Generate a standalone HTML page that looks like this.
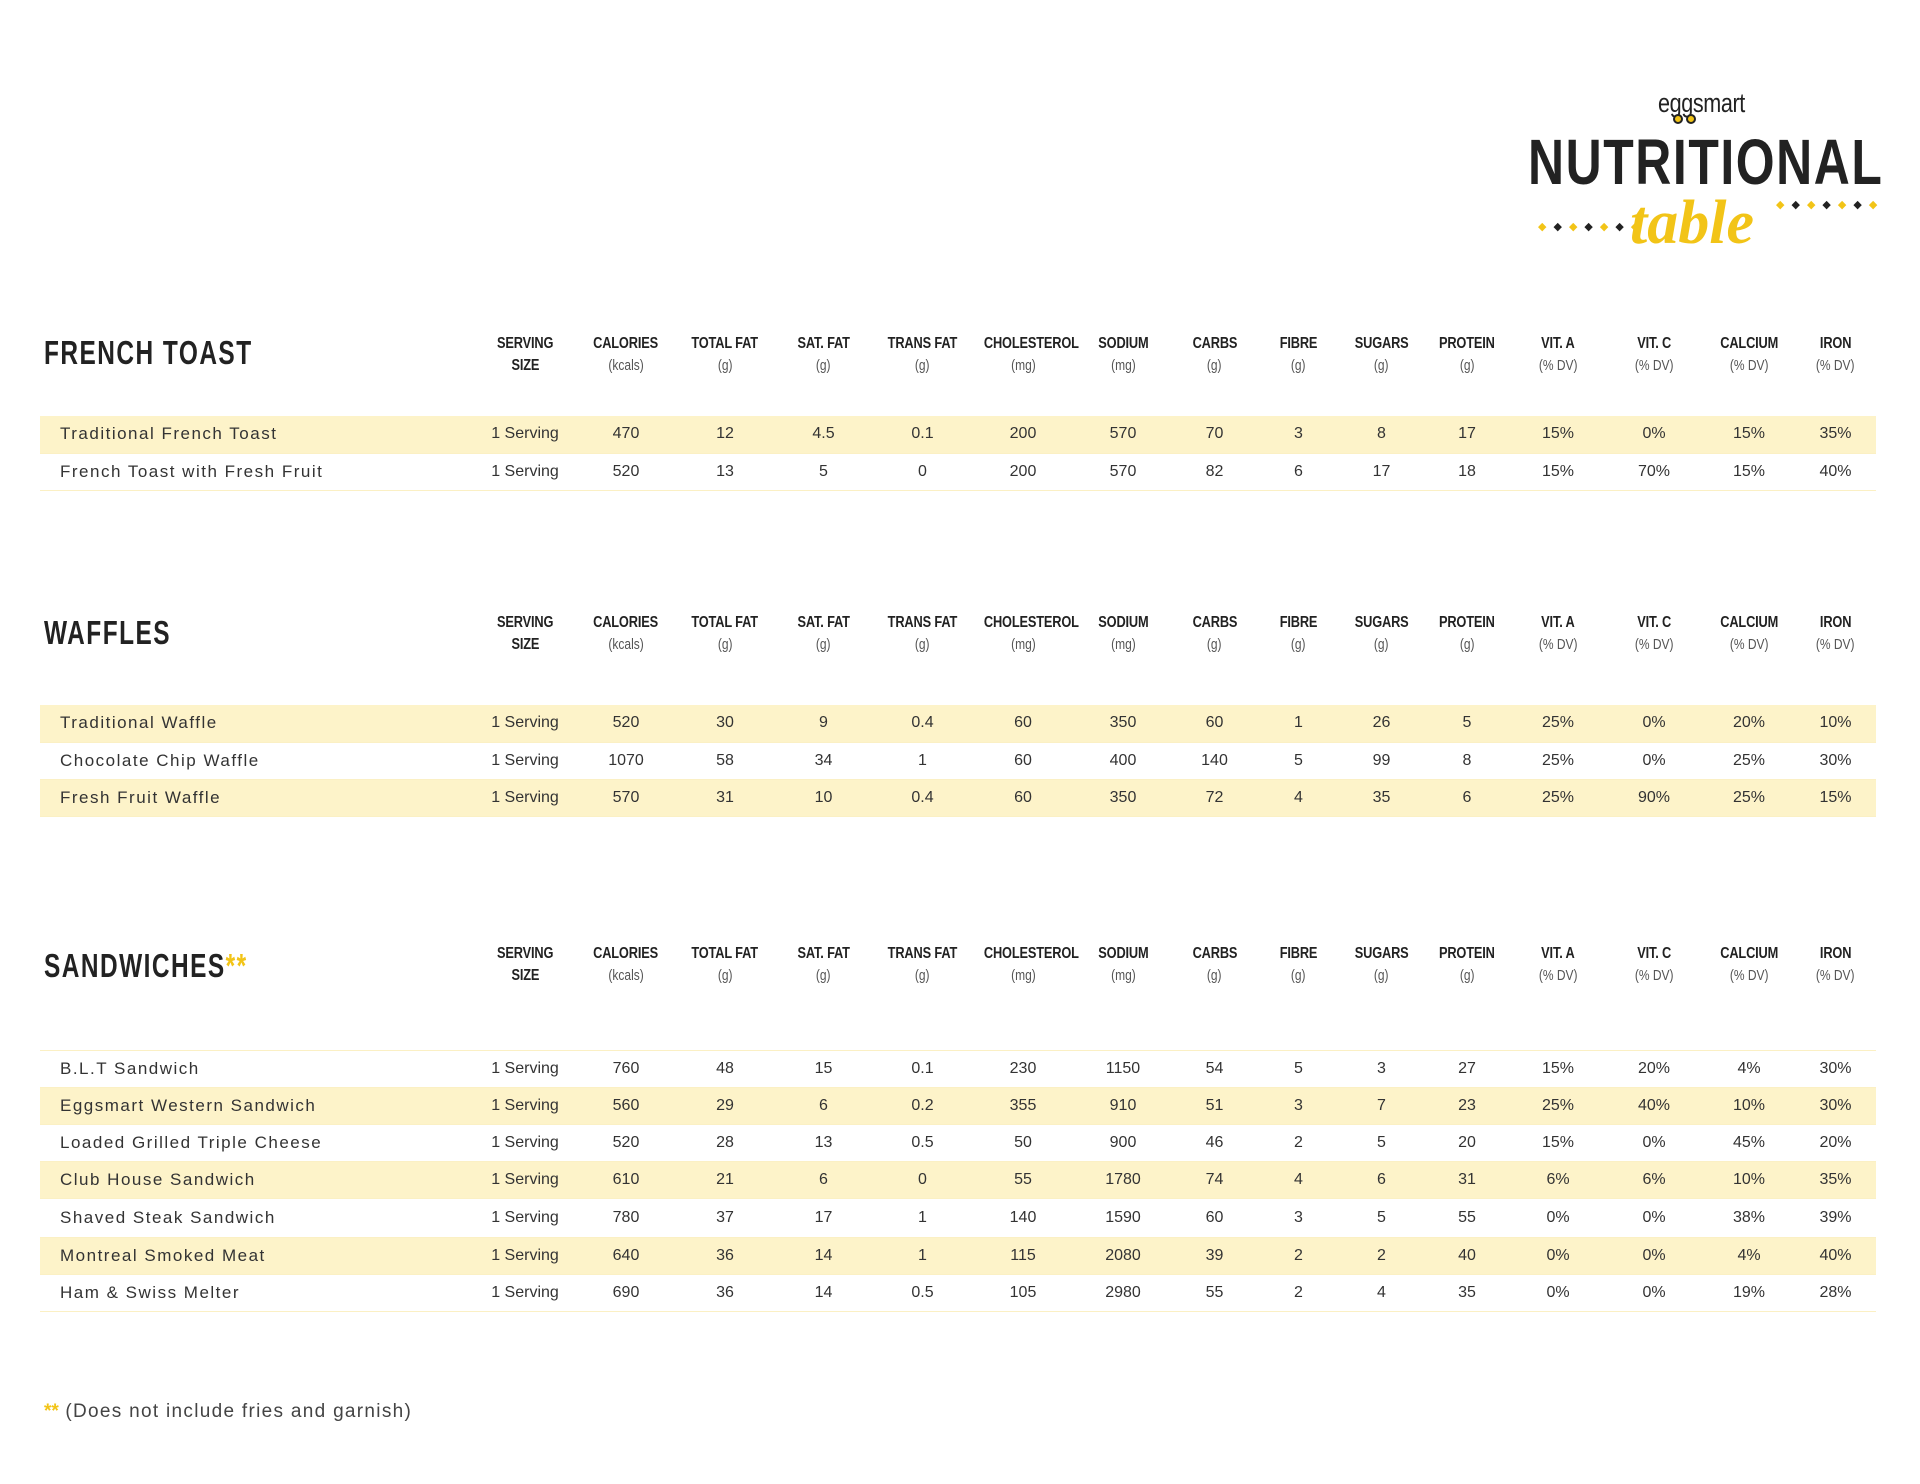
<!DOCTYPE html>
<html><head><meta charset="utf-8">
<style>
*{margin:0;padding:0;box-sizing:border-box}
body{width:1920px;height:1484px;background:#fff;position:relative;overflow:hidden;font-family:"Liberation Sans",sans-serif;color:#2a2a2a}
.title{position:absolute;left:44px;font-weight:bold;font-size:33px;letter-spacing:2px;color:#222;transform:scaleX(0.74);transform-origin:left center}
.title .st{color:#f2c417}
table{position:absolute;left:40px;width:1836px;border-collapse:collapse;table-layout:fixed}
td{text-align:center;font-size:16px;color:#333;white-space:nowrap;overflow:visible}
td.n{text-align:left;padding-left:20px;font-size:17px;letter-spacing:1.5px}
.data td{height:37px;border-bottom:1.5px solid #fbf0c4}
.data tr.y td{background:#fdf3c9}
.hdr td{vertical-align:top;line-height:22px;height:44px}
.hdr b{display:inline-block;font-size:16px;transform:scaleX(0.8);letter-spacing:-.2px;color:#222}
.hdr i{display:inline-block;font-style:normal;font-size:15px;color:#555;transform:scaleX(0.8)}
</style></head><body>

<!-- logo -->
<div style="position:absolute;left:1658px;top:88px;font-size:27px;color:#222;transform:scaleX(0.8);transform-origin:left;letter-spacing:-.5px">eggsmart</div>
<div style="position:absolute;left:1673px;top:114px;width:10px;height:10px;border-radius:50%;background:#f2c417;border:2px solid #222"></div>
<div style="position:absolute;left:1686px;top:114px;width:10px;height:10px;border-radius:50%;background:#f2c417;border:2px solid #222"></div>
<div style="position:absolute;left:1528px;top:130px;font-size:64px;font-weight:bold;color:#222;letter-spacing:2px;transform:scaleX(0.78);transform-origin:left top;line-height:1">NUTRITIONAL</div>
<div style="position:absolute;left:1630px;top:192px;font-family:'Liberation Serif',serif;font-style:italic;font-weight:bold;font-size:62px;color:#f2c417;line-height:1">table</div>
<div style="position:absolute;left:1538px;top:220px;font-size:11px;letter-spacing:7px;color:#f2c417">◆<span style="color:#222">◆</span>◆<span style="color:#222">◆</span>◆<span style="color:#222">◆</span>◆</div>
<div style="position:absolute;left:1776px;top:198px;font-size:11px;letter-spacing:7px;color:#f2c417">◆<span style="color:#222">◆</span>◆<span style="color:#222">◆</span>◆<span style="color:#222">◆</span>◆</div>

<!-- FRENCH TOAST -->
<div class="title" style="top:334px">FRENCH TOAST</div>
<table class="hdr" style="top:333px">
<colgroup><col style="width:434px"><col style="width:102px"><col style="width:100px"><col style="width:98px"><col style="width:99px"><col style="width:99px"><col style="width:102px"><col style="width:98px"><col style="width:85px"><col style="width:83px"><col style="width:83px"><col style="width:88px"><col style="width:94px"><col style="width:98px"><col style="width:92px"><col style="width:81px"></colgroup>
<tr><td></td><td><b>SERVING</b><br><b>SIZE</b></td><td><b>CALORIES</b><br><i>(kcals)</i></td><td><b>TOTAL FAT</b><br><i>(g)</i></td><td><b>SAT. FAT</b><br><i>(g)</i></td><td><b>TRANS FAT</b><br><i>(g)</i></td><td><b>CHOLESTEROL</b><br><i>(mg)</i></td><td><b>SODIUM</b><br><i>(mg)</i></td><td><b>CARBS</b><br><i>(g)</i></td><td><b>FIBRE</b><br><i>(g)</i></td><td><b>SUGARS</b><br><i>(g)</i></td><td><b>PROTEIN</b><br><i>(g)</i></td><td><b>VIT. A</b><br><i>(% DV)</i></td><td><b>VIT. C</b><br><i>(% DV)</i></td><td><b>CALCIUM</b><br><i>(% DV)</i></td><td><b>IRON</b><br><i>(% DV)</i></td></tr>
</table>
<table class="data" style="top:416px">
<colgroup><col style="width:434px"><col style="width:102px"><col style="width:100px"><col style="width:98px"><col style="width:99px"><col style="width:99px"><col style="width:102px"><col style="width:98px"><col style="width:85px"><col style="width:83px"><col style="width:83px"><col style="width:88px"><col style="width:94px"><col style="width:98px"><col style="width:92px"><col style="width:81px"></colgroup>
<tr class="y"><td class="n">Traditional French Toast</td><td>1 Serving</td><td>470</td><td>12</td><td>4.5</td><td>0.1</td><td>200</td><td>570</td><td>70</td><td>3</td><td>8</td><td>17</td><td>15%</td><td>0%</td><td>15%</td><td>35%</td></tr>
<tr><td class="n">French Toast with Fresh Fruit</td><td>1 Serving</td><td>520</td><td>13</td><td>5</td><td>0</td><td>200</td><td>570</td><td>82</td><td>6</td><td>17</td><td>18</td><td>15%</td><td>70%</td><td>15%</td><td>40%</td></tr>
</table>

<!-- WAFFLES -->
<div class="title" style="top:614px">WAFFLES</div>
<table class="hdr" style="top:612px">
<colgroup><col style="width:434px"><col style="width:102px"><col style="width:100px"><col style="width:98px"><col style="width:99px"><col style="width:99px"><col style="width:102px"><col style="width:98px"><col style="width:85px"><col style="width:83px"><col style="width:83px"><col style="width:88px"><col style="width:94px"><col style="width:98px"><col style="width:92px"><col style="width:81px"></colgroup>
<tr><td></td><td><b>SERVING</b><br><b>SIZE</b></td><td><b>CALORIES</b><br><i>(kcals)</i></td><td><b>TOTAL FAT</b><br><i>(g)</i></td><td><b>SAT. FAT</b><br><i>(g)</i></td><td><b>TRANS FAT</b><br><i>(g)</i></td><td><b>CHOLESTEROL</b><br><i>(mg)</i></td><td><b>SODIUM</b><br><i>(mg)</i></td><td><b>CARBS</b><br><i>(g)</i></td><td><b>FIBRE</b><br><i>(g)</i></td><td><b>SUGARS</b><br><i>(g)</i></td><td><b>PROTEIN</b><br><i>(g)</i></td><td><b>VIT. A</b><br><i>(% DV)</i></td><td><b>VIT. C</b><br><i>(% DV)</i></td><td><b>CALCIUM</b><br><i>(% DV)</i></td><td><b>IRON</b><br><i>(% DV)</i></td></tr>
</table>
<table class="data" style="top:705px">
<colgroup><col style="width:434px"><col style="width:102px"><col style="width:100px"><col style="width:98px"><col style="width:99px"><col style="width:99px"><col style="width:102px"><col style="width:98px"><col style="width:85px"><col style="width:83px"><col style="width:83px"><col style="width:88px"><col style="width:94px"><col style="width:98px"><col style="width:92px"><col style="width:81px"></colgroup>
<tr class="y"><td class="n">Traditional Waffle</td><td>1 Serving</td><td>520</td><td>30</td><td>9</td><td>0.4</td><td>60</td><td>350</td><td>60</td><td>1</td><td>26</td><td>5</td><td>25%</td><td>0%</td><td>20%</td><td>10%</td></tr>
<tr><td class="n">Chocolate Chip Waffle</td><td>1 Serving</td><td>1070</td><td>58</td><td>34</td><td>1</td><td>60</td><td>400</td><td>140</td><td>5</td><td>99</td><td>8</td><td>25%</td><td>0%</td><td>25%</td><td>30%</td></tr>
<tr class="y"><td class="n">Fresh Fruit Waffle</td><td>1 Serving</td><td>570</td><td>31</td><td>10</td><td>0.4</td><td>60</td><td>350</td><td>72</td><td>4</td><td>35</td><td>6</td><td>25%</td><td>90%</td><td>25%</td><td>15%</td></tr>
</table>

<!-- SANDWICHES -->
<div class="title" style="top:947px">SANDWICHES<span class="st">**</span></div>
<table class="hdr" style="top:943px">
<colgroup><col style="width:434px"><col style="width:102px"><col style="width:100px"><col style="width:98px"><col style="width:99px"><col style="width:99px"><col style="width:102px"><col style="width:98px"><col style="width:85px"><col style="width:83px"><col style="width:83px"><col style="width:88px"><col style="width:94px"><col style="width:98px"><col style="width:92px"><col style="width:81px"></colgroup>
<tr><td></td><td><b>SERVING</b><br><b>SIZE</b></td><td><b>CALORIES</b><br><i>(kcals)</i></td><td><b>TOTAL FAT</b><br><i>(g)</i></td><td><b>SAT. FAT</b><br><i>(g)</i></td><td><b>TRANS FAT</b><br><i>(g)</i></td><td><b>CHOLESTEROL</b><br><i>(mg)</i></td><td><b>SODIUM</b><br><i>(mg)</i></td><td><b>CARBS</b><br><i>(g)</i></td><td><b>FIBRE</b><br><i>(g)</i></td><td><b>SUGARS</b><br><i>(g)</i></td><td><b>PROTEIN</b><br><i>(g)</i></td><td><b>VIT. A</b><br><i>(% DV)</i></td><td><b>VIT. C</b><br><i>(% DV)</i></td><td><b>CALCIUM</b><br><i>(% DV)</i></td><td><b>IRON</b><br><i>(% DV)</i></td></tr>
</table>
<table class="data" style="top:1050px;border-top:1.5px solid #fbf0c4">
<colgroup><col style="width:434px"><col style="width:102px"><col style="width:100px"><col style="width:98px"><col style="width:99px"><col style="width:99px"><col style="width:102px"><col style="width:98px"><col style="width:85px"><col style="width:83px"><col style="width:83px"><col style="width:88px"><col style="width:94px"><col style="width:98px"><col style="width:92px"><col style="width:81px"></colgroup>
<tr><td class="n">B.L.T Sandwich</td><td>1 Serving</td><td>760</td><td>48</td><td>15</td><td>0.1</td><td>230</td><td>1150</td><td>54</td><td>5</td><td>3</td><td>27</td><td>15%</td><td>20%</td><td>4%</td><td>30%</td></tr>
<tr class="y"><td class="n">Eggsmart Western Sandwich</td><td>1 Serving</td><td>560</td><td>29</td><td>6</td><td>0.2</td><td>355</td><td>910</td><td>51</td><td>3</td><td>7</td><td>23</td><td>25%</td><td>40%</td><td>10%</td><td>30%</td></tr>
<tr><td class="n">Loaded Grilled Triple Cheese</td><td>1 Serving</td><td>520</td><td>28</td><td>13</td><td>0.5</td><td>50</td><td>900</td><td>46</td><td>2</td><td>5</td><td>20</td><td>15%</td><td>0%</td><td>45%</td><td>20%</td></tr>
<tr class="y"><td class="n">Club House Sandwich</td><td>1 Serving</td><td>610</td><td>21</td><td>6</td><td>0</td><td>55</td><td>1780</td><td>74</td><td>4</td><td>6</td><td>31</td><td>6%</td><td>6%</td><td>10%</td><td>35%</td></tr>
<tr><td class="n" style="height:39px">Shaved Steak Sandwich</td><td>1 Serving</td><td>780</td><td>37</td><td>17</td><td>1</td><td>140</td><td>1590</td><td>60</td><td>3</td><td>5</td><td>55</td><td>0%</td><td>0%</td><td>38%</td><td>39%</td></tr>
<tr class="y"><td class="n">Montreal Smoked Meat</td><td>1 Serving</td><td>640</td><td>36</td><td>14</td><td>1</td><td>115</td><td>2080</td><td>39</td><td>2</td><td>2</td><td>40</td><td>0%</td><td>0%</td><td>4%</td><td>40%</td></tr>
<tr><td class="n">Ham &amp; Swiss Melter</td><td>1 Serving</td><td>690</td><td>36</td><td>14</td><td>0.5</td><td>105</td><td>2980</td><td>55</td><td>2</td><td>4</td><td>35</td><td>0%</td><td>0%</td><td>19%</td><td>28%</td></tr>
</table>

<div style="position:absolute;left:44px;top:1401px;font-size:19px;color:#444;letter-spacing:1.3px"><span style="color:#f2c417;font-weight:bold;letter-spacing:0">**</span>&nbsp;(Does not include fries and garnish)</div>
</body></html>
